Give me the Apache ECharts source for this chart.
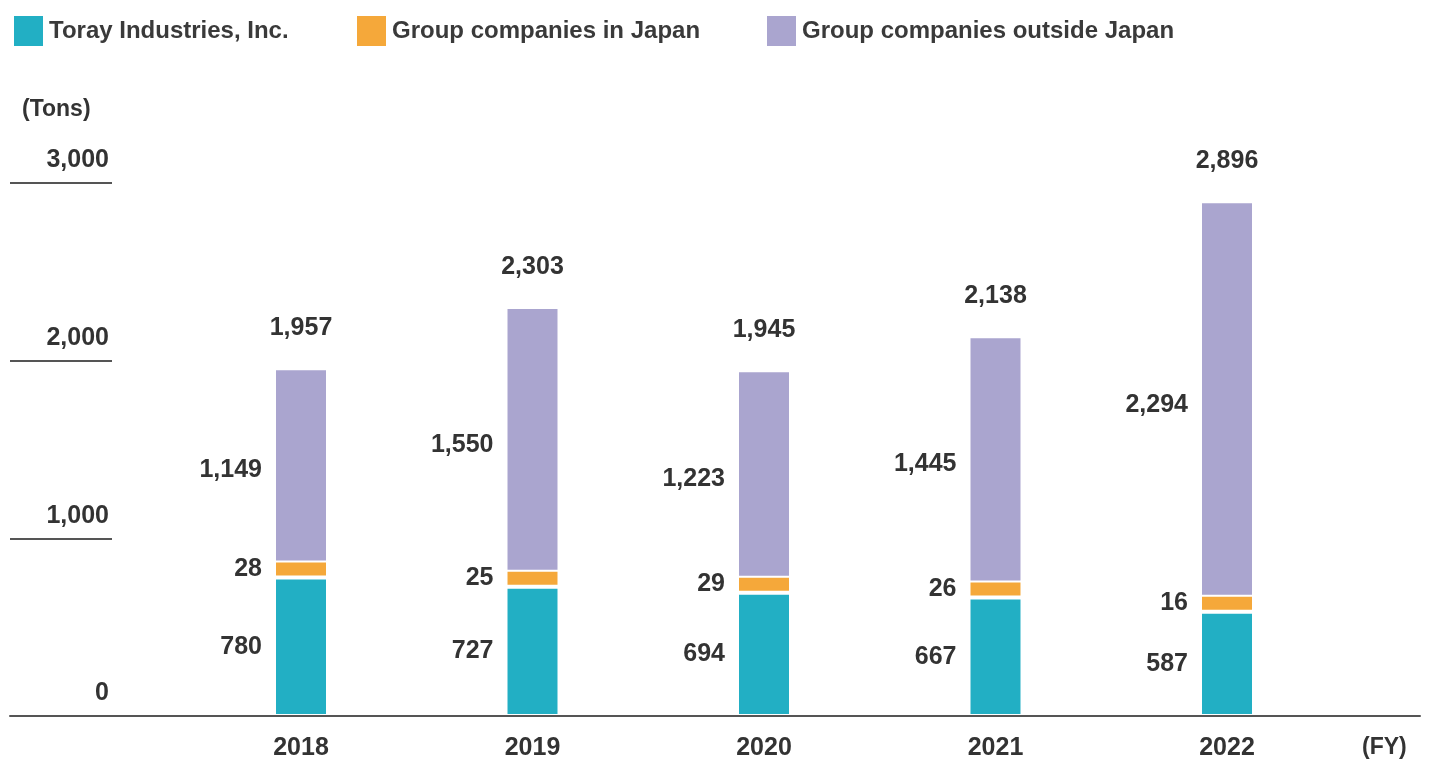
<!DOCTYPE html>
<html>
<head>
<meta charset="utf-8">
<script src="https://cdn.jsdelivr.net/npm/echarts@6/dist/echarts.min.js"></script>
<style>
  html, body { margin: 0; padding: 0; background: #fff; }
  #chart { width: 1430px; height: 764px; }
</style>
</head>
<body>
<div id="chart"></div>
<script>
const categories = ['2018', '2019', '2020', '2021', '2022'];
const seriesNames = ['Toray Industries, Inc.', 'Group companies in Japan', 'Group companies outside Japan'];
const torayValues = [780, 727, 694, 667, 587];
const japanGroupValues = [28, 25, 29, 26, 16];
const overseasGroupValues = [1149, 1550, 1223, 1445, 2294];
const totalValues = [1957, 2303, 1945, 2138, 2896];
const yTicks = [0, 1000, 2000, 3000];

const colors = ['#22AFC4', '#F5A83A', '#AAA5CF'];
const FONT = '"Liberation Sans", Arial, Helvetica, sans-serif';
const TXT = '#333333';
const fmt = v => Number(v).toLocaleString('en-US');

const chart = echarts.init(document.getElementById('chart'), null, { renderer: 'canvas' });

function legendAt(left, name) {
  return {
    left: left, top: 14, padding: 0, icon: 'rect',
    itemWidth: 31, itemHeight: 32, itemGap: 0,
    data: [name],
    selectedMode: false,
    textStyle: { fontFamily: FONT, fontSize: 24, fontWeight: 'bold', color: '#3a3a3a', padding: [0, 0, 0, 0] }
  };
}

function barSeries(i, values) {
  return {
    name: seriesNames[i],
    type: 'bar',
    xAxisIndex: 1, yAxisIndex: 1,
    stack: 'total',
    barWidth: 54,
    barMinHeight: i === 1 ? 17 : 0,
    z: i === 1 ? 3 : 2,
    data: values,
    itemStyle: { color: colors[i], borderColor: '#ffffff', borderWidth: 2 },
    label: {
      show: true, position: 'left', distance: 12,
      fontFamily: FONT, fontSize: 25, fontWeight: 'bold', color: TXT,
      formatter: p => fmt(p.value)
    }
  };
}

const option = {
  animation: false,
  backgroundColor: '#ffffff',
  title: [
    { text: '(Tons)', left: 22, top: 98, padding: 0,
      textStyle: { fontFamily: FONT, fontSize: 23, fontWeight: 'bold', color: TXT } },
    { text: '(FY)', left: 1362, top: 736, padding: 0,
      textStyle: { fontFamily: FONT, fontSize: 23, fontWeight: 'bold', color: TXT } }
  ],
  legend: [
    legendAt(12, seriesNames[0]),
    legendAt(355, seriesNames[1]),
    legendAt(765, seriesNames[2])
  ],
  grid: [
    { left: 10, right: 10, top: 183, bottom: 48 },
    { left: 185.25, right: 87.25, top: 183, bottom: 48 }
  ],
  xAxis: [
    { gridIndex: 0, type: 'value', min: 0, max: 1, z: 5,
      axisLine: { show: true, lineStyle: { color: '#555555', width: 2 } },
      axisTick: { show: false }, axisLabel: { show: false }, splitLine: { show: false } },
    { gridIndex: 1, type: 'category', data: categories,
      axisLine: { show: false }, axisTick: { show: false }, splitLine: { show: false },
      axisLabel: { margin: 20, fontFamily: FONT, fontSize: 25, fontWeight: 'bold', color: TXT } }
  ],
  yAxis: [
    { gridIndex: 0, type: 'value', min: yTicks[0], max: yTicks[yTicks.length - 1], interval: 1000,
      axisLine: { show: false },
      axisTick: { show: true, inside: true, length: 102, lineStyle: { color: '#555555', width: 2 } },
      splitLine: { show: false },
      axisLabel: { inside: true, margin: 99, align: 'right', verticalAlign: 'bottom', padding: [0, 0, 10, 0],
        fontFamily: FONT, fontSize: 25, fontWeight: 'bold', color: TXT,
        formatter: v => fmt(v) } },
    { gridIndex: 1, type: 'value', min: yTicks[0], max: yTicks[yTicks.length - 1], interval: 1000, show: false,
      splitLine: { show: false } }
  ],
  series: [
    barSeries(0, torayValues),
    barSeries(1, japanGroupValues),
    barSeries(2, overseasGroupValues),
    {
      name: 'Total', type: 'scatter', xAxisIndex: 1, yAxisIndex: 1,
      data: totalValues, symbolSize: 1, z: 4,
      itemStyle: { color: 'rgba(0,0,0,0)', opacity: 1 },
      label: { show: true, position: 'top', distance: 27,
        fontFamily: FONT, fontSize: 25, fontWeight: 'bold', color: TXT, opacity: 1,
        formatter: p => fmt(p.value) }
    }
  ]
};
chart.setOption(option);
</script>
</body>
</html>
